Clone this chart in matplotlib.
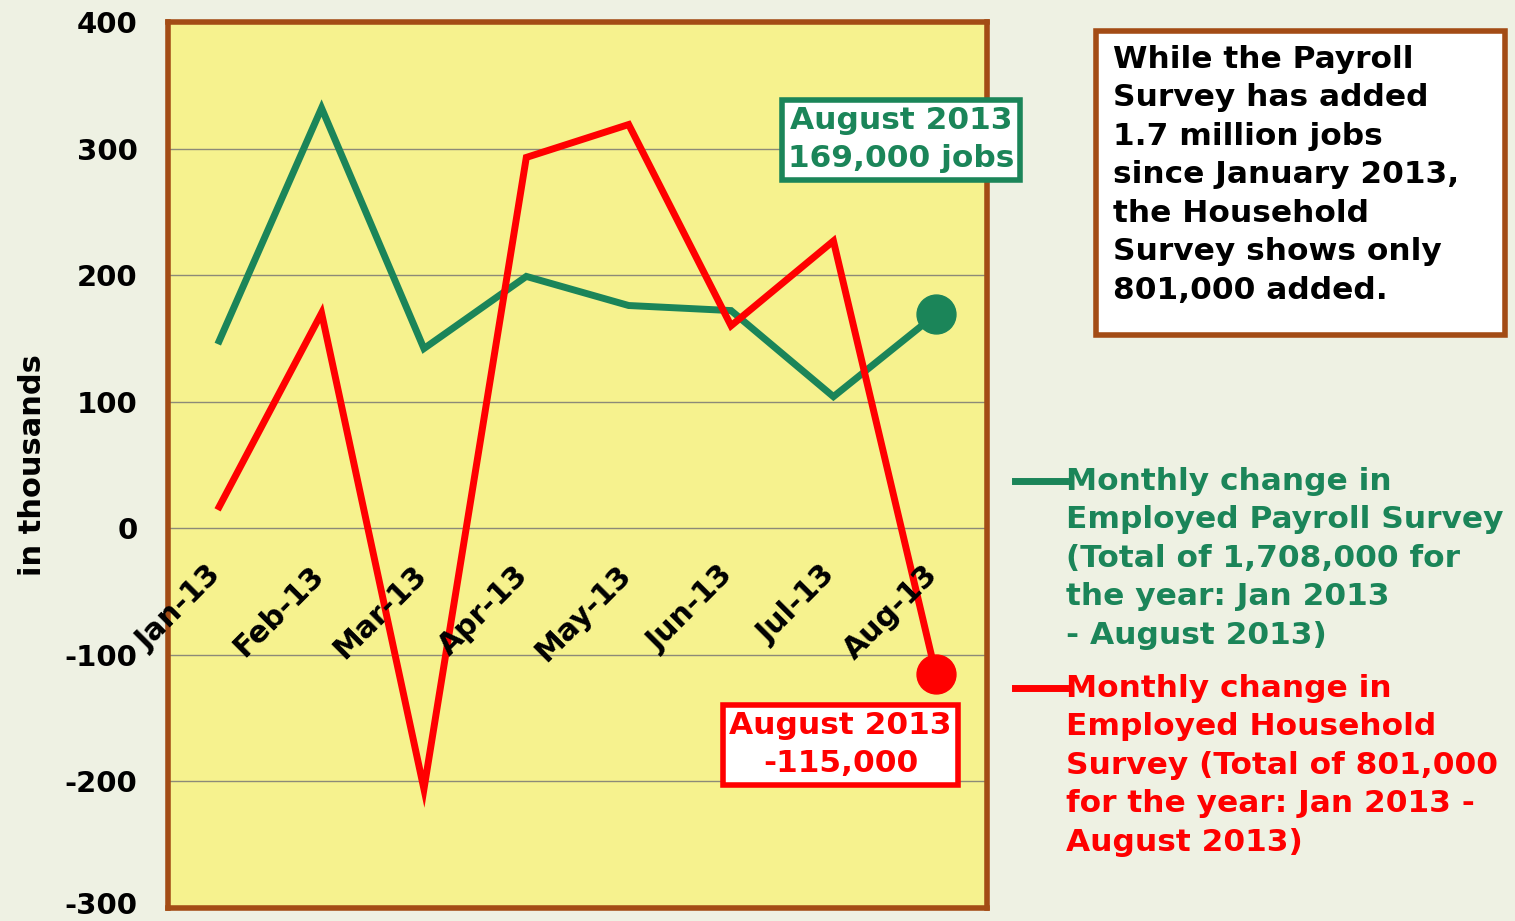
import matplotlib
matplotlib.use("Agg")
import matplotlib.pyplot as plt
from matplotlib.lines import Line2D
from matplotlib.patches import Rectangle
from matplotlib.transforms import ScaledTranslation

months = ["Jan-13", "Feb-13", "Mar-13", "Apr-13", "May-13", "Jun-13", "Jul-13", "Aug-13"]
payroll = [148, 332, 142, 199, 176, 172, 104, 169]
household = [17, 170, -206, 293, 319, 160, 227, -115]
yticks = [-300, -200, -100, 0, 100, 200, 300, 400]

GREEN = "#1b8559"
RED = "#ff0000"
BROWN = "#a34c15"
FS = 22.5
LS = 1.41

plt.rcParams['font.family'] = ['DejaVu Sans']
plt.rcParams['font.weight'] = 'bold'

fig = plt.figure(figsize=(15.15, 9.21), dpi=100, facecolor="#eef1e3")
ax = fig.add_axes([168/1515, 1-908/921, 819/1515, 886/921])
ax.set_facecolor("#f6f28e")

x = list(range(len(months)))
ax.plot(x, payroll, color=GREEN, lw=5, solid_joinstyle='miter', zorder=3)
ax.plot(x, household, color=RED, lw=5, solid_joinstyle='miter', zorder=3)
ax.plot(x[-1], payroll[-1], 'o', color=GREEN, ms=28, zorder=4)
ax.plot(x[-1], household[-1], 'o', color=RED, ms=28, zorder=4)

ax.set_xlim(-0.5, 7.5)
ax.set_ylim(-300, 400)
ax.set_yticks(yticks)
ax.set_yticklabels([str(v) for v in yticks], fontsize=21, fontweight='bold')
ax.tick_params(axis='y', length=0, pad=22)
# keep the bottom label inside the picture
low = ax.get_yticklabels()[0]
low.set_transform(low.get_transform() + ScaledTranslation(0, 0.05, fig.dpi_scale_trans))
ax.set_xticks([])
ax.grid(axis='y', color="#8c8a78", lw=1)
ax.set_axisbelow(True)
for s in ax.spines.values():
    s.set_color(BROWN)
    s.set_linewidth(4)

for i, m in enumerate(months):
    ax.annotate(m, (i, 0), xytext=(-9, -23), textcoords='offset points',
                rotation=45, rotation_mode='anchor', ha='right', va='top',
                fontsize=21.5, fontweight='bold', zorder=5, annotation_clip=False)

ax.set_ylabel("in thousands", fontsize=22, fontweight='bold')
ax.yaxis.set_label_coords(-0.148, 0.5)

ax.text(6.66, 307, "August 2013\n169,000 jobs", color=GREEN, fontsize=FS, fontweight='bold',
        ha='center', va='center', clip_on=False, zorder=6, linespacing=LS,
        bbox=dict(boxstyle='square,pad=0.2', fc='white', ec=GREEN, lw=4))
ax.text(6.07, -171, "August 2013\n-115,000", color=RED, fontsize=FS, fontweight='bold',
        ha='center', va='center', clip_on=False, zorder=6, linespacing=LS,
        bbox=dict(boxstyle='square,pad=0.2', fc='white', ec=RED, lw=4))

fig.add_artist(Rectangle((1096/1515, 1-335/921), 409/1515, 304/921, transform=fig.transFigure,
                         fc='white', ec=BROWN, lw=4))
fig.text(1113/1515, 1-45/921,
         "While the Payroll\nSurvey has added\n1.7 million jobs\nsince January 2013,\nthe Household\nSurvey shows only\n801,000 added.",
         fontsize=FS, fontweight='bold', color='black', ha='left', va='top', linespacing=LS)

legend_items = [
    (GREEN, 481, "Monthly change in\nEmployed Payroll Survey\n(Total of 1,708,000 for\nthe year: Jan 2013\n- August 2013)"),
    (RED, 688, "Monthly change in\nEmployed Household\nSurvey (Total of 801,000\nfor the year: Jan 2013 -\nAugust 2013)"),
]
for color, ypx, label in legend_items:
    yf = 1 - ypx/921
    fig.add_artist(Line2D([1015/1515, 1065/1515], [yf, yf], color=color, lw=5,
                          transform=fig.transFigure))
    fig.text(1066/1515, yf + 14/921, label, color=color, fontsize=FS, fontweight='bold',
             ha='left', va='top', linespacing=LS)

fig.savefig("out.png", dpi=100, facecolor=fig.get_facecolor())
